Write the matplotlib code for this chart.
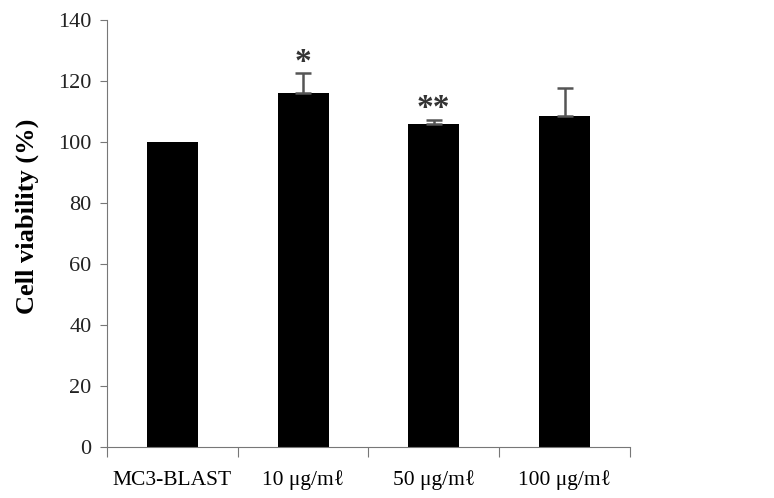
import numpy as np
import matplotlib.pyplot as plt

plt.rcParams['font.family'] = ['Liberation Serif', 'DejaVu Serif']

groups = ["MC3-BLAST", "10 \u03bcg/m\u2113", "50 \u03bcg/m\u2113", "100 \u03bcg/m\u2113"]
viability = [100, 116, 106, 108.5]
err = [0, 6.5, 1.2, 9.2]
stars = ["", "*", "**", ""]
star_y = [0, 121, 106, 0]

fig = plt.figure(figsize=(7.74, 4.98), dpi=100)
ax = fig.add_axes([0.138, 0.1024, 0.676, 0.8576])

x = np.arange(len(groups))
ax.bar(x, viability, width=0.39, color="black")
ax.errorbar(x[1:], viability[1:], yerr=[np.zeros(3), err[1:]], fmt="none",
            ecolor="#555555", elinewidth=1.8, capsize=6, capthick=1.8)
for xi, s, sy in zip(x, stars, star_y):
    if s:
        ax.text(xi, sy, s, ha="center", va="bottom", fontsize=24,
                fontweight="bold", color="#333333")

ax.set_xlim(-0.5, 3.5)
ax.set_ylim(0, 140)
ax.set_yticks(range(0, 141, 20))
ax.set_xticks(np.arange(-0.5, 4, 1))
ax.set_xticklabels([])
ax.set_xticks(x, minor=True)
ax.set_xticklabels(groups, minor=True, fontsize=15.5)
ax.tick_params(axis="x", which="minor", length=0, pad=17)
ax.tick_params(axis="x", which="major", length=7, color="#777777")
ax.tick_params(axis="y", length=5, color="#777777", labelsize=16, pad=6,
               labelcolor="#222222")
for sp in ["top", "right"]:
    ax.spines[sp].set_visible(False)
for sp in ["left", "bottom"]:
    ax.spines[sp].set_color("#777777")
ax.set_ylabel("Cell viability (%)", fontsize=19, fontweight="bold")
ax.yaxis.set_label_coords(-0.13, 0.54)

fig.savefig("out.png", dpi=100)
